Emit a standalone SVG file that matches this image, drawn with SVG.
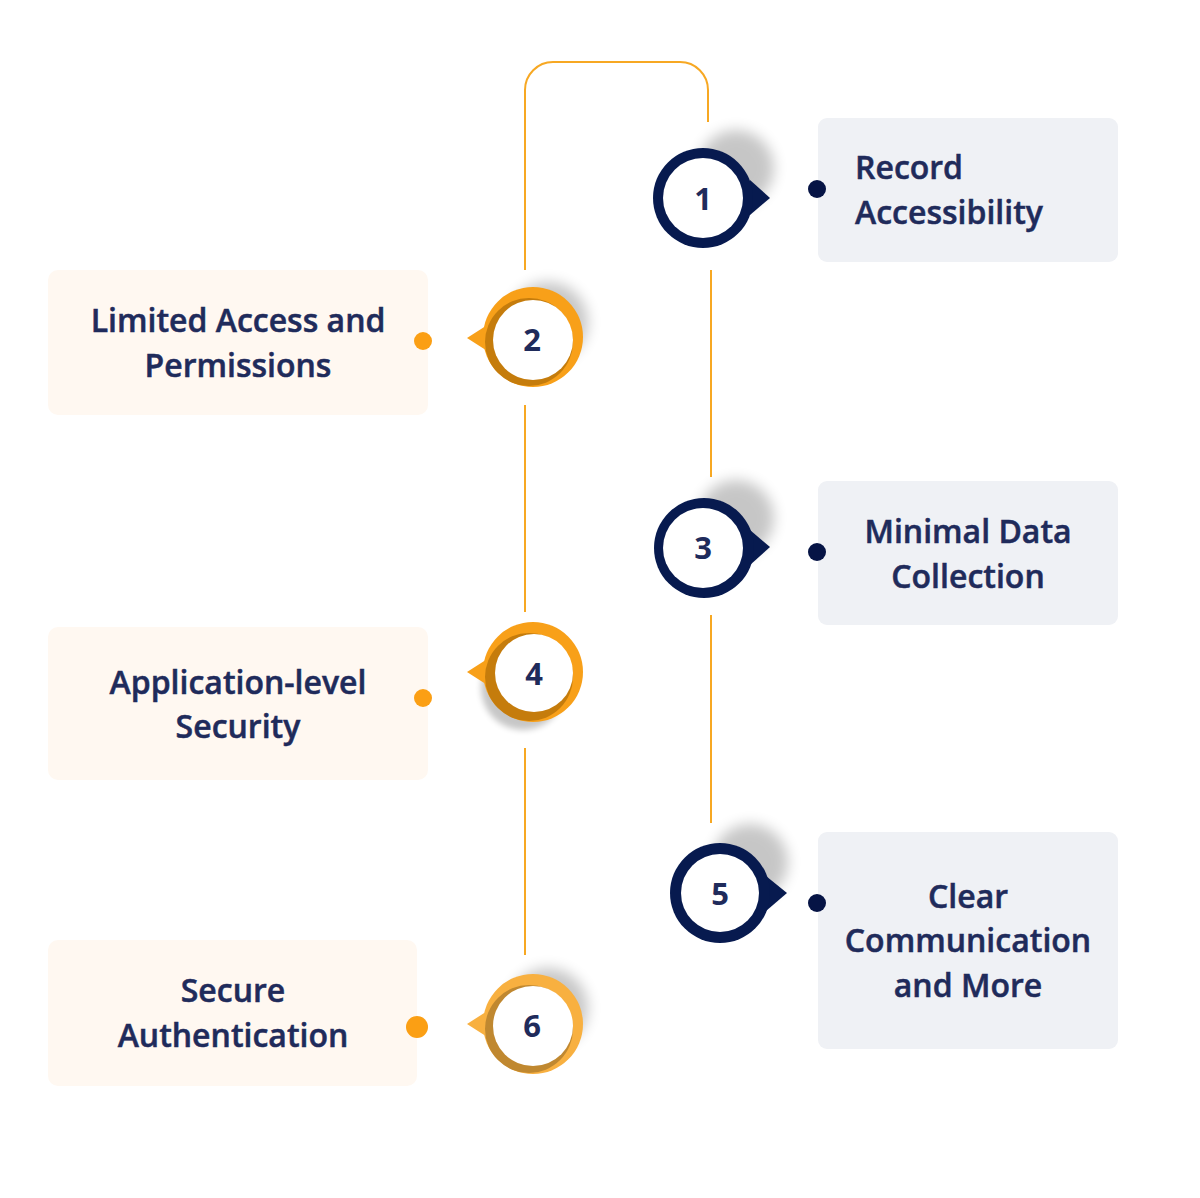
<svg xmlns="http://www.w3.org/2000/svg" width="1200" height="1198" viewBox="0 0 1200 1198">
  <defs>
    <style>
      .lbl { font-family: "Open Sans", "Noto Sans", sans-serif; font-weight: 600; font-size: 32px; fill: #1f2b5b; stroke: #1f2b5b; stroke-width: 0.5px; }
      .num { font-family: "Open Sans", "Noto Sans", sans-serif; font-weight: 700; font-size: 31px; fill: #1f2b5b; text-anchor: middle; }
      .line { stroke: #f7a823; stroke-width: 2; fill: none; }
      .boxN { fill: #eff1f5; }
      .boxO { fill: #fff8f1; }
      .dotN { fill: #061445; }
      .dotO { fill: #fb9f14; }
      .navy { fill: #071a4f; }
      .org { fill: #f8a019; }
      .orgD { fill: #c57c0c; }
      .org6 { fill: #f8b040; }
      .org6D { fill: #c08830; }
      .white { fill: #ffffff; }
      .shadow { fill: #000000; opacity: 0.22; }
    </style>
    <filter id="blur" x="-50%" y="-50%" width="200%" height="200%">
      <feGaussianBlur stdDeviation="7"/>
    </filter>
    <filter id="blur2" x="-50%" y="-50%" width="200%" height="200%">
      <feGaussianBlur stdDeviation="3"/>
    </filter>
  </defs>
  <rect width="1200" height="1198" fill="#ffffff"/>

  <g id="connectors">
    <path class="line" d="M525 270 V90 A28 28 0 0 1 553 62 H680 A28 28 0 0 1 708 90 V122"/>
    <line class="line" x1="525" y1="405" x2="525" y2="612"/>
    <line class="line" x1="525" y1="748" x2="525" y2="955"/>
    <line class="line" x1="711" y1="270" x2="711" y2="477"/>
    <line class="line" x1="711" y1="615" x2="711" y2="823"/>
  </g>

  <!-- Node 1 -->
  <g id="node1">
    <circle class="shadow" cx="736" cy="168" r="38" filter="url(#blur)"/>
    <path class="navy" d="M750 180 L770 198 L750 215 Z"/>
    <circle class="navy" cx="703" cy="198" r="50"/>
    <circle class="white" cx="703" cy="198" r="40"/>
    <text class="num" x="703" y="210">1</text>
    <rect class="boxN" x="818" y="118" width="300" height="144" rx="9"/>
    <circle class="dotN" cx="817" cy="189" r="9"/>
    <text class="lbl" x="855" y="179">Record</text>
    <text class="lbl" x="855" y="224">Accessibility</text>
  </g>

  <!-- Node 2 -->
  <g id="node2">
    <circle class="shadow" cx="548" cy="322" r="40" filter="url(#blur)" opacity="0.1"/>
    <rect class="boxO" x="48" y="270" width="380" height="145" rx="10"/>
    <circle class="dotO" cx="423" cy="341" r="9"/>
    <text class="lbl" x="238" y="332" text-anchor="middle">Limited Access and</text>
    <text class="lbl" x="238" y="377" text-anchor="middle">Permissions</text>
    <path class="org" d="M492 322 L467 338 L492 354 Z"/>
    <circle class="org" cx="533" cy="337" r="50"/>
    <circle class="orgD" cx="529" cy="342" r="44"/>
    <circle class="white" cx="533" cy="340" r="40"/>
    <text class="num" x="532" y="351">2</text>
  </g>

  <!-- Node 3 -->
  <g id="node3">
    <circle class="shadow" cx="736" cy="518" r="38" filter="url(#blur)"/>
    <path class="navy" d="M750 530 L770 547 L750 565 Z"/>
    <circle class="navy" cx="704" cy="548" r="50"/>
    <circle class="white" cx="703" cy="548" r="40"/>
    <text class="num" x="703" y="559">3</text>
    <rect class="boxN" x="818" y="481" width="300" height="144" rx="9"/>
    <circle class="dotN" cx="817" cy="552" r="9"/>
    <text class="lbl" x="968" y="543" text-anchor="middle">Minimal Data</text>
    <text class="lbl" x="968" y="588" text-anchor="middle">Collection</text>
  </g>

  <!-- Node 4 -->
  <g id="node4">
    <rect class="boxO" x="48" y="627" width="380" height="153" rx="10"/>
    <circle class="dotO" cx="423" cy="698" r="9"/>
    <text class="lbl" x="238" y="694" text-anchor="middle">Application-level</text>
    <text class="lbl" x="238" y="738" text-anchor="middle">Security</text>
    <circle class="shadow" cx="523" cy="688" r="42" filter="url(#blur2)" opacity="0.25"/>
    <path class="org" d="M492 656 L467 672 L492 688 Z"/>
    <circle class="org" cx="533" cy="672" r="50"/>
    <circle class="orgD" cx="529" cy="677" r="44"/>
    <circle class="white" cx="534" cy="673" r="39"/>
    <text class="num" x="534" y="685">4</text>
  </g>

  <!-- Node 5 -->
  <g id="node5">
    <circle class="shadow" cx="750" cy="862" r="38" filter="url(#blur)"/>
    <path class="navy" d="M766 876 L787 893 L766 911 Z"/>
    <circle class="navy" cx="720" cy="893" r="50"/>
    <circle class="white" cx="720" cy="893" r="39"/>
    <text class="num" x="720" y="905">5</text>
    <rect class="boxN" x="818" y="832" width="300" height="217" rx="9"/>
    <circle class="dotN" cx="817" cy="903" r="9"/>
    <text class="lbl" x="968" y="908" text-anchor="middle">Clear</text>
    <text class="lbl" x="968" y="952" text-anchor="middle">Communication</text>
    <text class="lbl" x="968" y="997" text-anchor="middle">and More</text>
  </g>

  <!-- Node 6 -->
  <g id="node6">
    <circle class="shadow" cx="548" cy="1008" r="40" filter="url(#blur)" opacity="0.1"/>
    <rect class="boxO" x="48" y="940" width="369" height="146" rx="10"/>
    <circle class="dotO" cx="417" cy="1027" r="11"/>
    <text class="lbl" x="233" y="1002" text-anchor="middle">Secure</text>
    <text class="lbl" x="233" y="1047" text-anchor="middle">Authentication</text>
    <path class="org6" d="M492 1008 L467 1024 L492 1040 Z"/>
    <circle class="org6" cx="533" cy="1024" r="50"/>
    <circle class="org6D" cx="529" cy="1029" r="44"/>
    <circle class="white" cx="533" cy="1026" r="40"/>
    <text class="num" x="532" y="1037">6</text>
  </g>
</svg>
